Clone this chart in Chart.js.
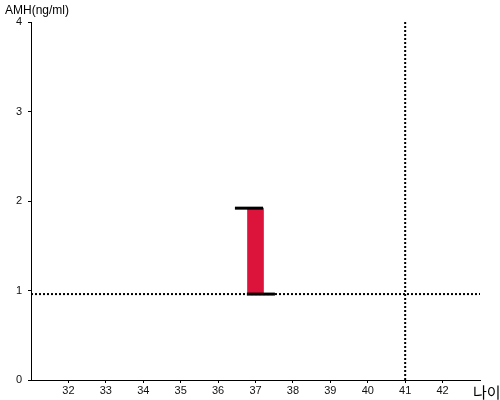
<!DOCTYPE html>
<html>
<head>
<meta charset="utf-8">
<script src="https://cdn.jsdelivr.net/npm/chart.js@4/dist/chart.umd.min.js"></script>
<style>
html,body{margin:0;padding:0;background:#fff;}
#wrap{width:500px;height:400px;position:relative;}
</style>
</head>
<body>
<div id="wrap"><canvas id="c" width="500" height="400"></canvas></div>
<script>
// ---- data ----
const xTickValues = [32, 33, 34, 35, 36, 37, 38, 39, 40, 41, 42];
const yTickValues = [0, 1, 2, 3, 4];
const barAge = [37];
const barLow = [0.96];
const barHigh = [1.92];
const topCapAges = [36.45, 37.2];
const bottomCapAges = [36.77, 37.52];
const refAmh = 0.96;      // horizontal dotted reference line
const refAge = 41;        // vertical dotted reference line
const xRange = [31, 43];
const yRange = [0, 4];
const yTitle = 'AMH(ng/ml)';
const xTitle = '나이';

const FONT = "'Liberation Sans', Arial, sans-serif";

const titles = {
  id: 'titles',
  afterDraw(chart) {
    const ctx = chart.ctx;
    const a = chart.chartArea;
    ctx.save();
    ctx.fillStyle = '#000';
    ctx.font = '12px ' + FONT;
    ctx.textBaseline = 'alphabetic';
    ctx.textAlign = 'left';
    ctx.fillText(yTitle, a.left - 26, a.top - 8);
    ctx.font = '15px ' + "'Noto Sans CJK KR', sans-serif";
    ctx.fillText(xTitle, a.right - 7, a.bottom + 18);
    ctx.restore();
  }
};

new Chart(document.getElementById('c'), {
  type: 'bar',
  data: {
    datasets: [
      {
        type: 'line',
        data: topCapAges.map(x => ({x: x, y: barHigh[0]})),
        borderColor: '#000', borderWidth: 3, pointRadius: 0, fill: false
      },
      {
        type: 'line',
        data: bottomCapAges.map(x => ({x: x, y: barLow[0]})),
        borderColor: '#000', borderWidth: 3, pointRadius: 0, fill: false
      },
      {
        type: 'line',
        data: xRange.map(x => ({x: x, y: refAmh})),
        borderColor: '#000', borderWidth: 2, borderDash: [2, 2], pointRadius: 0, fill: false
      },
      {
        type: 'line',
        data: yRange.map(y => ({x: refAge, y: y})),
        borderColor: '#000', borderWidth: 2, borderDash: [2, 2], pointRadius: 0, fill: false
      },
      {
        type: 'bar',
        data: barAge.map((x, i) => ({x: x, y: [barLow[i], barHigh[i]]})),
        backgroundColor: '#DC143C',
        borderWidth: 0,
        barThickness: 16
      }
    ]
  },
  options: {
    responsive: false,
    animation: false,
    layout: { padding: { top: 22, right: 20, left: 0, bottom: 0 } },
    plugins: { legend: { display: false }, tooltip: { enabled: false } },
    scales: {
      x: {
        type: 'linear',
        offset: false,
        min: xRange[0], max: xRange[1],
        afterBuildTicks: s => { s.ticks = xTickValues.map(v => ({value: v})); },
        afterFit: s => { s.height = 20; },
        grid: { display: true, offset: false, drawOnChartArea: false, drawTicks: true, tickLength: 3, color: '#000' },
        border: { display: true, color: '#000', width: 1 },
        ticks: { color: '#111', font: { size: 11, family: FONT }, padding: 1, maxRotation: 0, autoSkip: false }
      },
      y: {
        type: 'linear',
        min: yRange[0], max: yRange[1],
        afterBuildTicks: s => { s.ticks = yTickValues.map(v => ({value: v})); },
        afterFit: s => { s.width = 31; },
        grid: { display: true, drawOnChartArea: false, drawTicks: true, tickLength: 3, color: '#000' },
        border: { display: true, color: '#000', width: 1 },
        ticks: { color: '#111', font: { size: 11, family: FONT }, padding: 6 }
      }
    }
  },
  plugins: [titles]
});
</script>
</body>
</html>
